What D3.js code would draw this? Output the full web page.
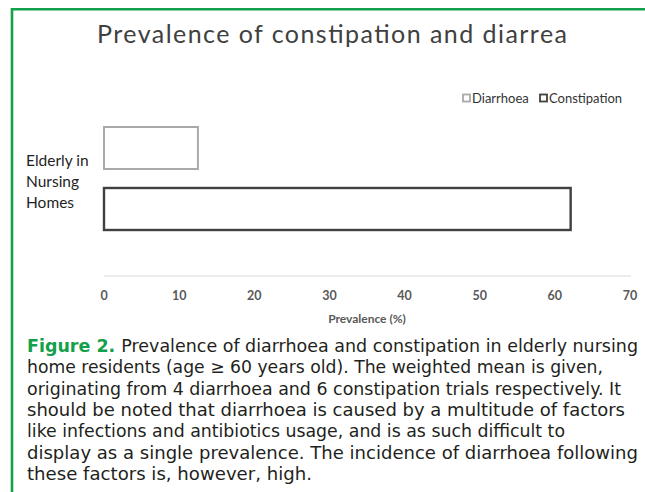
<!DOCTYPE html>
<html>
<head>
<meta charset="utf-8">
<script src="https://cdn.jsdelivr.net/npm/d3@7"></script>
<style>
body{margin:0;background:#fff;}
svg{display:block;}
</style>
</head>
<body>
<svg id="chart"></svg>
<script>
// data
var categories = ["Elderly in Nursing Homes"];
var categoryLines = ["Elderly in", "Nursing", "Homes"];
var series = ["Diarrhoea", "Constipation"];
var diarrhoea = [12.5];
var constipation = [62.1];
var xTicks = [0, 10, 20, 30, 40, 50, 60, 70];
var caption = [
  "Prevalence of diarrhoea and constipation in elderly nursing",
  "home residents (age \u2265 60 years old). The weighted mean is given,",
  "originating from 4 diarrhoea and 6 constipation trials respectively. It",
  "should be noted that diarrhoea is caused by a multitude of factors",
  "like infections and antibiotics usage, and is as such difficult to",
  "display as a single prevalence. The incidence of diarrhoea following",
  "these factors is, however, high."
];
var captionEnds = [638, 603, 621, 625, 565, 638, 312];

var width = 645, height = 492;
var green = "#12a04a";
var font = "Lato, 'Open Sans', sans-serif";
var gothic = "'DejaVu Sans', sans-serif";

var svg = d3.select("#chart").attr("width", width).attr("height", height);

// green frame (top + left)
svg.append("path")
  .attr("d", "M12,492 L12,9.2 L645,9.2")
  .attr("fill", "none")
  .attr("stroke", green)
  .attr("stroke-width", 2.6);

svg.append("text")
  .attr("x", 97).attr("y", 43)
  .attr("font-family", font)
  .attr("font-size", 25)
  .attr("fill", "#404040")
  .attr("textLength", 470)
  .attr("lengthAdjust", "spacing")
  .text("Prevalence of constipation and diarrea");

var x = d3.scaleLinear().domain([0, 70]).range([104, 630]);
var yCat = d3.scaleBand().domain(categories).range([127, 230]);
var ySer = d3.scaleBand().domain(series).range([0, yCat.bandwidth()]).paddingInner(0.311);

var strokes = {"Diarrhoea": "#a9a9a9", "Constipation": "#404040"};
var values = {"Diarrhoea": diarrhoea, "Constipation": constipation};

// axis line
svg.append("line")
  .attr("x1", x(0)).attr("x2", x(70) + 1)
  .attr("y1", 276).attr("y2", 276)
  .attr("stroke", "#d9d9d9").attr("stroke-width", 1);

// bars
series.forEach(function(s) {
  svg.selectAll(".bar-" + s)
    .data(categories)
    .enter().append("rect")
    .attr("x", x(0))
    .attr("y", function(d) { return yCat(d) + ySer(s); })
    .attr("width", function(d, i) { return x(values[s][i]) - x(0); })
    .attr("height", ySer.bandwidth())
    .attr("fill", "white")
    .attr("stroke", strokes[s])
    .attr("stroke-width", s == "Constipation" ? 2.4 : 2);
});

// tick labels
svg.selectAll(".tick")
  .data(xTicks)
  .enter().append("text")
  .attr("x", function(d) { return x(d); })
  .attr("y", 300)
  .attr("text-anchor", "middle")
  .attr("font-family", font)
  .attr("font-size", 12.5)
  .attr("font-weight", "bold")
  .attr("fill", "#595959")
  .text(function(d) { return d; });

svg.append("text")
  .attr("x", 367).attr("y", 323)
  .attr("text-anchor", "middle")
  .attr("font-family", font)
  .attr("font-size", 12)
  .attr("font-weight", "bold")
  .attr("fill", "#595959")
  .text("Prevalence (%)");

// category label
svg.selectAll(".cat")
  .data(categoryLines)
  .enter().append("text")
  .attr("x", 26)
  .attr("y", function(d, i) { return 166 + i * 21; })
  .attr("font-family", font)
  .attr("font-size", 15.5)
  .attr("fill", "#1f1f1f")
  .text(function(d) { return d; });

// legend
var legX = [463, 540];
series.forEach(function(s, i) {
  svg.append("rect")
    .attr("x", legX[i]).attr("y", 94.5)
    .attr("width", 7).attr("height", 7)
    .attr("fill", "white")
    .attr("stroke", strokes[s])
    .attr("stroke-width", 1.8);
  svg.append("text")
    .attr("x", legX[i] + 9).attr("y", 102.5)
    .attr("font-family", font)
    .attr("font-size", 13)
    .attr("fill", "#333")
    .text(s);
});

// caption
var cap = svg.append("g");
caption.forEach(function(line, i) {
  var t = cap.append("text")
    .attr("x", 27)
    .attr("y", 352 + i * 21.3)
    .attr("font-family", gothic)
    .attr("font-size", 17)
    .attr("fill", "#231f20")
    .attr("textLength", captionEnds[i] - 27)
    .attr("lengthAdjust", "spacingAndGlyphs");
  if (i == 0) {
    t.append("tspan").attr("fill", green).attr("font-weight", "bold").text("Figure 2. ");
  }
  t.append("tspan").text(line);
});
</script>
</body>
</html>
